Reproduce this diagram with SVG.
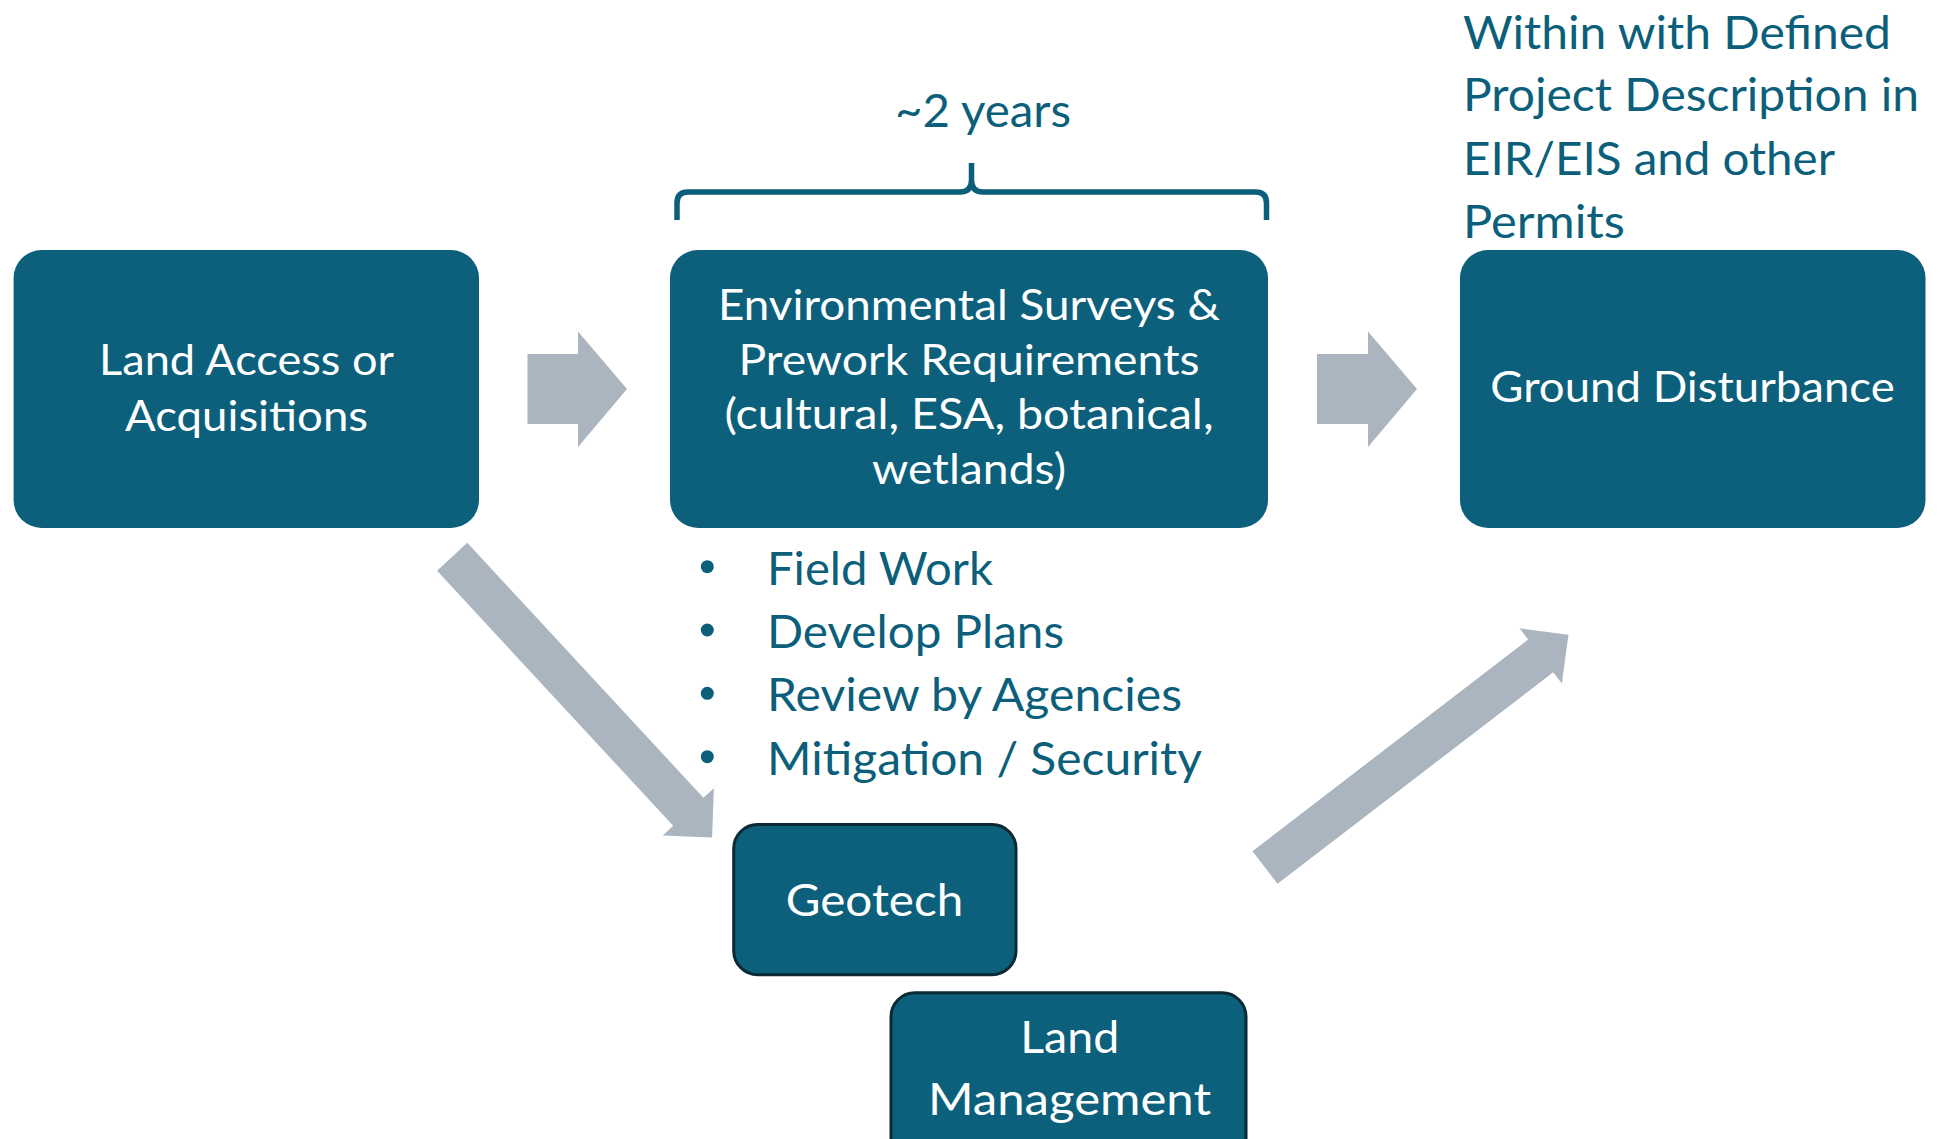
<svg xmlns="http://www.w3.org/2000/svg" width="1946" height="1139" viewBox="0 0 1946 1139">
<style>
text{font-family:Lato,"Open Sans","Liberation Sans",sans-serif;}
.box{fill:#0C607B;}
.sbox{fill:#0C607B;stroke:#0A2A36;stroke-width:3;}
.wt{fill:#FFFFFF;font-size:43px;text-anchor:middle;}
.wt2{fill:#FFFFFF;font-size:45px;text-anchor:middle;}
.tt{fill:#0C5F7A;font-size:46px;}
.arr{fill:#AAB5BF;}
.brace{fill:none;stroke:#0C5F7A;stroke-width:5.5;stroke-linejoin:round;}
</style>
<defs>
<polygon id="diag" points="0,-20.6 347.5,-20.6 347.5,-34.8 382.5,0 347.5,34.8 347.5,20.6 0,20.6"/>
</defs>
<g id="connectors">
<polygon class="arr" points="527.5,354 578,354 578,331.5 627,389 578,447 578,424 527.5,424"/>
<polygon class="arr" points="1317,354 1368,354 1368,331.5 1417,389 1368,447 1368,424 1317,424"/>
<use href="#diag" class="arr" transform="translate(452.2,556.8) rotate(47.2)"/>
<use href="#diag" class="arr" transform="translate(1265,867.5) rotate(-37.5)"/>
</g>
<g id="node-land-access">
<rect class="box" x="13.6" y="250" width="465.4" height="278" rx="28"/>
<text class="wt" x="246.5" y="375" textLength="295" lengthAdjust="spacingAndGlyphs">Land Access or</text>
<text class="wt" x="246.5" y="431" textLength="243" lengthAdjust="spacingAndGlyphs">Acquisitions</text>
</g>
<g id="node-env-surveys">
<rect class="box" x="670" y="250" width="598" height="278" rx="28"/>
<text class="wt" x="969" y="320" textLength="502" lengthAdjust="spacingAndGlyphs">Environmental Surveys &amp;</text>
<text class="wt" x="969" y="374.5" textLength="461" lengthAdjust="spacingAndGlyphs">Prework Requirements</text>
<text class="wt" x="969" y="429" textLength="489" lengthAdjust="spacingAndGlyphs">(cultural, ESA, botanical,</text>
<text class="wt" x="969" y="483.5" textLength="194" lengthAdjust="spacingAndGlyphs">wetlands)</text>
</g>
<g id="node-ground-disturbance">
<rect class="box" x="1460" y="250" width="465.5" height="278" rx="28"/>
<text class="wt" x="1692.5" y="401.7" textLength="404.5" lengthAdjust="spacingAndGlyphs">Ground Disturbance</text>
</g>
<g id="node-geotech">
<rect class="sbox" x="733.7" y="824.6" width="282.3" height="150.1" rx="24"/>
<text class="wt2" x="874.5" y="916" textLength="177.5" lengthAdjust="spacingAndGlyphs">Geotech</text>
</g>
<g id="node-land-management">
<rect class="sbox" x="891" y="992.7" width="355" height="190" rx="24"/>
<text class="wt2" x="1069.7" y="1052.6" textLength="99" lengthAdjust="spacingAndGlyphs">Land</text>
<text class="wt2" x="1069.5" y="1115" textLength="283" lengthAdjust="spacingAndGlyphs">Management</text>
</g>
<g id="annotation-duration">
<path class="brace" d="M677,220 V203 Q677,192 688,192 H960 Q971.5,192 971.5,180 V163 M971.5,180 Q971.5,192 983,192 H1255.5 Q1266.5,192 1266.5,203 V220"/>
<text class="tt" x="895" y="127" textLength="176" lengthAdjust="spacingAndGlyphs">~2 years</text>
</g>
<g id="annotation-project">
<text class="tt" x="1463" y="49" textLength="428" lengthAdjust="spacingAndGlyphs">Within with Defined</text>
<text class="tt" x="1463" y="111" textLength="456" lengthAdjust="spacingAndGlyphs">Project Description in</text>
<text class="tt" x="1463" y="174.5" textLength="372" lengthAdjust="spacingAndGlyphs">EIR/EIS and other</text>
<text class="tt" x="1463" y="238" textLength="162" lengthAdjust="spacingAndGlyphs">Permits</text>
</g>
<g id="annotation-tasks">
<circle cx="707.3" cy="566.7" r="6.5" fill="#0C5F7A"/>
<circle cx="707.3" cy="630" r="6.5" fill="#0C5F7A"/>
<circle cx="707.3" cy="693.3" r="6.5" fill="#0C5F7A"/>
<circle cx="707.3" cy="756.7" r="6.5" fill="#0C5F7A"/>
<text class="tt" x="767" y="585" textLength="226" lengthAdjust="spacingAndGlyphs">Field Work</text>
<text class="tt" x="767" y="648" textLength="297" lengthAdjust="spacingAndGlyphs">Develop Plans</text>
<text class="tt" x="767" y="711" textLength="415" lengthAdjust="spacingAndGlyphs">Review by Agencies</text>
<text class="tt" x="767" y="775" textLength="435" lengthAdjust="spacingAndGlyphs">Mitigation / Security</text>
</g>
</svg>
